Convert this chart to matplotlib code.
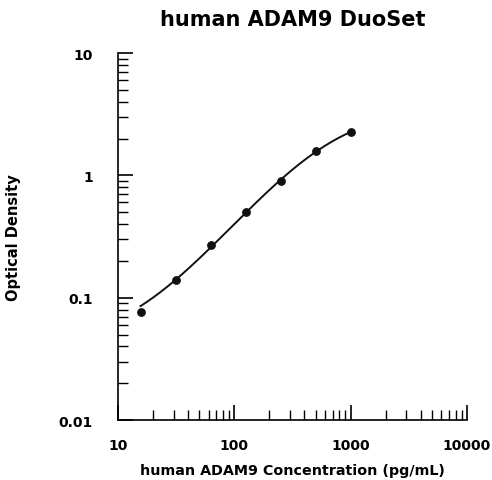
import matplotlib
matplotlib.use("Agg")
import matplotlib.pyplot as plt
import numpy as np

plt.rcParams['font.family'] = ['DejaVu Sans']

conc = [15.6, 31.25, 62.5, 125, 250, 500, 1000]
od = [0.076, 0.140, 0.270, 0.503, 0.895, 1.57, 2.26]


# four parameter logistic fit of the standards (plain Gauss-Newton)
def fpl(x, p):
    a, b, c, d = p
    return d + (a - d) / (1 + (x / c) ** b)


x = np.array(conc, dtype=float)
y = np.array(od, dtype=float)
p = np.array([0.03, 1.0, 600.0, 4.0])
for it in range(200):
    r = y - fpl(x, p)
    J = np.zeros((len(x), 4))
    for k in range(4):
        dp = np.zeros(4)
        dp[k] = 1e-6 * max(abs(p[k]), 1e-3)
        J[:, k] = (fpl(x, p + dp) - fpl(x, p)) / dp[k]
    step = np.linalg.lstsq(J.T @ J + 1e-3 * np.diag(np.diag(J.T @ J)), J.T @ r, rcond=None)[0]
    p = p + step

xs = np.logspace(np.log10(conc[0]), np.log10(conc[-1]), 200)
ys = fpl(xs, p)

fig = plt.figure(figsize=(4.92, 4.81), dpi=100)
ax = fig.add_axes([0.24, 0.1247, 0.709, 0.763])

ax.plot(xs, ys, color='#111111', lw=1.4)
ax.plot(conc, od, 'o', color='#111111', ms=5.3)

ax.set_xscale('log')
ax.set_yscale('log')
ax.set_xlim(10, 10000)
ax.set_ylim(0.01, 10)
ax.set_xticks([10, 100, 1000, 10000])
ax.set_xticklabels(['10', '100', '1000', '10000'])
ax.set_yticks([0.01, 0.1, 1, 10])
ax.set_yticklabels(['0.01', '0.1', '1', '10'])

for s in ['top', 'right']:
    ax.spines[s].set_visible(False)
ax.spines['left'].set_linewidth(1.2)
ax.spines['bottom'].set_linewidth(1.2)

ax.tick_params(which='major', direction='in', length=11, width=1.2, labelsize=10)
ax.tick_params(which='minor', direction='in', length=7, width=1.0)
ax.tick_params(axis='x', which='major', pad=13)
ax.tick_params(axis='y', which='major', pad=18)
for lab in ax.get_xticklabels() + ax.get_yticklabels():
    lab.set_fontweight('bold')

ax.set_xlabel('human ADAM9 Concentration (pg/mL)', fontsize=10.3, fontweight='bold', labelpad=8)
ax.set_ylabel('Optical Density', fontsize=10.5, fontweight='bold', labelpad=27)
ax.set_title('human ADAM9 DuoSet', fontsize=15, fontweight='bold', pad=20)

fig.savefig('out.png', dpi=100)
